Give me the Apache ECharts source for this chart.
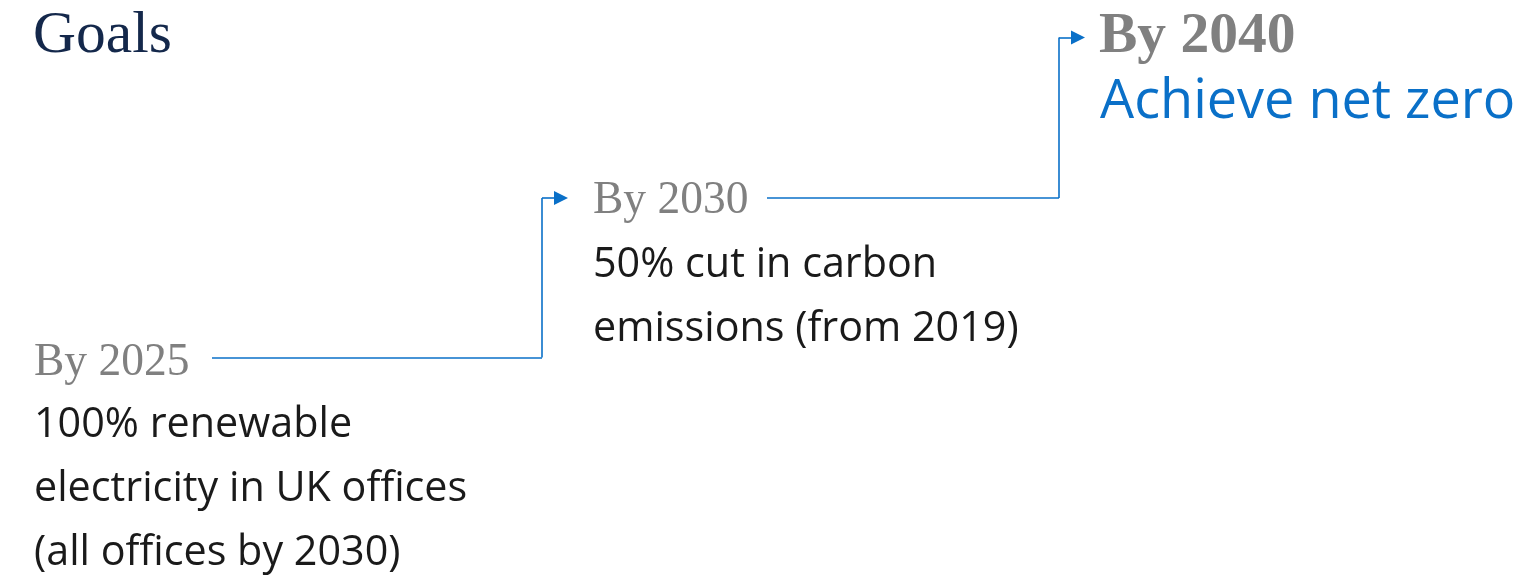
<!DOCTYPE html>
<html>
<head>
<meta charset="utf-8">
<script src="https://cdn.jsdelivr.net/npm/echarts@6/dist/echarts.min.js"></script>
<style>
html,body{margin:0;padding:0;background:#fff;}
#chart{width:1521px;height:580px;}
</style>
</head>
<body>
<div id="chart"></div>
<script>
// ---- content ----
const titleText = 'Goals';
const milestoneYears = ['By 2025', 'By 2030', 'By 2040'];
const milestoneGoals = [
  ['100% renewable', 'electricity in UK offices', '(all offices by 2030)'],
  ['50% cut in carbon', 'emissions (from 2019)'],
  ['Achieve net zero']
];

// ---- layout (pixel space of a hidden cartesian grid) ----
const headX = [34, 593, 1099];
const headY = [363, 201, 37];
const bodyTop = [393.5, 233.5, 75];
const bodyX = [34, 593, 1100];
const titlePos = [33, 36];
// connector: [startX, turnX, endX], [startY, endY]
const connX = [[212, 542, 561], [767, 1059, 1078]];
const connY = [[357.5, 198], [198, 37.5]];

const SERIF = '"Liberation Serif", "DejaVu Serif", serif';
const SANS = '"Open Sans", "Noto Sans", sans-serif';
const BLUE = '#0a70c8';
const GREY = '#808080';

const chart = echarts.init(document.getElementById('chart'), null, {renderer: 'canvas'});

function textPoint(x, y, text, style) {
  return {
    value: [x, y],
    label: Object.assign({
      show: true,
      formatter: text,
      position: [0, 0],
      align: 'left',
      opacity: 1
    }, style)
  };
}

const textData = [];
textData.push(textPoint(titlePos[0], titlePos[1], titleText, {
  fontFamily: SERIF, fontSize: 59.5, color: '#14284b', verticalAlign: 'middle'
}));
milestoneYears.forEach(function (yr, i) {
  const last = i === milestoneYears.length - 1;
  textData.push(textPoint(headX[i], headY[i], yr, {
    fontFamily: SERIF,
    fontSize: last ? 57.5 : 45.5,
    fontWeight: last ? 'bold' : 'normal',
    color: GREY,
    verticalAlign: 'middle'
  }));
  textData.push(textPoint(bodyX[i], bodyTop[i], milestoneGoals[i].join('\n'), {
    fontFamily: SANS,
    fontSize: last ? 54 : 41.3,
    lineHeight: last ? 56 : 64,
    color: last ? BLUE : '#1a1a1a',
    verticalAlign: 'top'
  }));
});

// plain segments (no arrow) and final arrow segments
const segData = [];
const arrowData = [];
connX.forEach(function (xs, i) {
  const y0 = connY[i][0], y1 = connY[i][1];
  segData.push({coords: [[xs[0], y0], [xs[1], y0]]});
  segData.push({coords: [[xs[1], y0], [xs[1], y1]]});
  arrowData.push({coords: [[xs[1], y1], [xs[2], y1]]});
});

const lineStyle = {color: BLUE, width: 1.6, opacity: 1, curveness: 0};

chart.setOption({
  backgroundColor: '#ffffff',
  animation: false,
  grid: {left: 0, right: 0, top: 0, bottom: 0},
  xAxis: {type: 'value', min: 0, max: 1521, show: false},
  yAxis: {type: 'value', min: 0, max: 580, inverse: true, show: false},
  series: [
    {
      type: 'lines',
      coordinateSystem: 'cartesian2d',
      symbol: ['none', 'none'],
      lineStyle: lineStyle,
      data: segData,
      silent: true
    },
    {
      type: 'lines',
      coordinateSystem: 'cartesian2d',
      symbol: ['none', 'triangle'],
      symbolSize: [10, 14],
      lineStyle: lineStyle,
      itemStyle: {color: BLUE, opacity: 1},
      data: arrowData,
      silent: true
    },
    {
      type: 'scatter',
      symbolSize: 0,
      silent: true,
      itemStyle: {opacity: 1},
      data: textData
    }
  ]
});
</script>
</body>
</html>
